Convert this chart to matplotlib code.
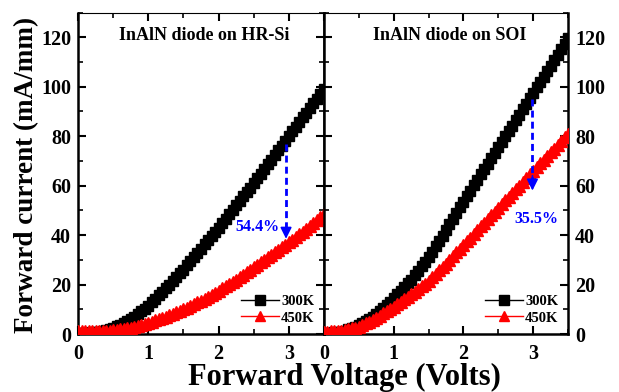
import matplotlib
matplotlib.use("Agg")
import matplotlib.pyplot as plt
from matplotlib.ticker import MultipleLocator

plt.rcParams['font.family'] = ['Liberation Serif', 'DejaVu Serif']
plt.rcParams['font.weight'] = 'bold'

voltage = [0.00, 0.05, 0.10, 0.15, 0.20, 0.25, 0.30, 0.35, 0.40, 0.45,
           0.50, 0.55, 0.60, 0.65, 0.70, 0.75, 0.80, 0.85, 0.90, 0.95,
           1.00, 1.05, 1.10, 1.15, 1.20, 1.25, 1.30, 1.35, 1.40, 1.45,
           1.50, 1.55, 1.60, 1.65, 1.70, 1.75, 1.80, 1.85, 1.90, 1.95,
           2.00, 2.05, 2.10, 2.15, 2.20, 2.25, 2.30, 2.35, 2.40, 2.45,
           2.50, 2.55, 2.60, 2.65, 2.70, 2.75, 2.80, 2.85, 2.90, 2.95,
           3.00, 3.05, 3.10, 3.15, 3.20, 3.25, 3.30, 3.35, 3.40, 3.45,
           3.50]

hrsi_300K = [0.5, 0.5, 0.55, 0.6, 0.7, 0.8, 1.0, 1.3, 1.7, 2.1,
             2.5, 3.1, 3.7, 4.4, 5.2, 6.0, 7.0, 8.0, 9.1, 10.3,
             11.5, 12.8, 14.2, 15.6, 17.0, 18.5, 20.0, 21.5, 23.0, 24.5,
             26.0, 27.7, 29.4, 31.1, 32.8, 34.5, 36.2, 37.9, 39.6, 41.3,
             43.0, 44.8, 46.6, 48.4, 50.2, 52.0, 53.8, 55.6, 57.4, 59.2,
             61.0, 62.9, 64.8, 66.7, 68.6, 70.5, 72.4, 74.3, 76.2, 78.1,
             80.0, 81.9, 83.8, 85.7, 87.6, 89.5, 91.4, 93.3, 95.2, 97.1,
             99.0]

hrsi_450K = [1.2, 1.2, 1.2, 1.2, 1.2, 1.2, 1.25, 1.3, 1.35, 1.4,
             1.5, 1.7, 1.9, 2.1, 2.35, 2.6, 2.95, 3.3, 3.7, 4.1,
             4.5, 5.0, 5.5, 6.0, 6.5, 7.0, 7.6, 8.2, 8.8, 9.4,
             10.0, 10.7, 11.4, 12.1, 12.8, 13.5, 14.3, 15.1, 15.9, 16.7,
             17.5, 18.4, 19.3, 20.2, 21.1, 22.0, 23.0, 24.0, 25.0, 26.0,
             27.0, 28.0, 29.0, 30.0, 31.0, 32.0, 33.0, 34.0, 35.0, 36.0,
             37.0, 38.1, 39.2, 40.3, 41.4, 42.5, 43.7, 44.9, 46.1, 47.3,
             48.5]

soi_300K = [0.5, 0.55, 0.6, 0.7, 0.85, 1.0, 1.4, 1.9, 2.4, 2.9,
            3.5, 4.3, 5.2, 6.1, 7.0, 8.0, 9.2, 10.5, 11.8, 13.1,
            14.5, 16.0, 17.5, 19.0, 20.5, 22.0, 23.8, 25.6, 27.4, 29.2,
            31.0, 33.2, 35.4, 37.6, 39.8, 42.0, 44.3, 46.6, 48.9, 51.2,
            53.5, 55.7, 57.9, 60.1, 62.3, 64.5, 66.7, 68.9, 71.1, 73.3,
            75.5, 77.7, 79.9, 82.1, 84.3, 86.5, 88.7, 90.9, 93.1, 95.3,
            97.5, 99.7, 101.9, 104.1, 106.3, 108.5, 110.7, 112.9, 115.1, 117.3,
            119.5]

soi_450K = [1.0, 1.0, 1.05, 1.1, 1.2, 1.3, 1.6, 1.9, 2.3, 2.6,
            3.0, 3.6, 4.3, 5.0, 5.7, 6.5, 7.4, 8.3, 9.2, 10.1,
            11.0, 12.0, 13.0, 14.0, 15.0, 16.0, 17.1, 18.2, 19.3, 20.4,
            21.5, 22.9, 24.3, 25.7, 27.1, 28.5, 30.0, 31.5, 33.0, 34.5,
            36.0, 37.5, 39.0, 40.5, 42.0, 43.5, 45.0, 46.5, 48.0, 49.5,
            51.0, 52.5, 54.0, 55.5, 57.0, 58.5, 60.0, 61.5, 63.0, 64.5,
            66.0, 67.5, 69.0, 70.5, 72.0, 73.5, 75.0, 76.5, 78.0, 79.5,
            81.0]

panel_titles = ["InAlN diode on HR-Si", "InAlN diode on SOI"]
series_labels = ["300K", "450K"]
drop_labels = ["54.4%", "35.5%"]
xticks = [0, 1, 2, 3]
yticks = [0, 20, 40, 60, 80, 100, 120]

fig = plt.figure(figsize=(6.19, 3.92), dpi=100)
W, H = 619, 392
ax1 = fig.add_axes([78 / W, (H - 334) / H, 246 / W, 321.5 / H])
ax2 = fig.add_axes([324 / W, (H - 334) / H, 244 / W, 321.5 / H])

panels = [
    (ax1, hrsi_300K, hrsi_450K, panel_titles[0], drop_labels[0],
     (2.96, 77, 38.5), (2.56, 43.3)),
    (ax2, soi_300K, soi_450K, panel_titles[1], drop_labels[1],
     (2.99, 95, 58.0), (3.04, 46.3)),
]

for i, (ax, c300, c450, title, drop, arrow, txtpos) in enumerate(panels):
    ax.plot(voltage, c300, color='black', marker='s', markersize=7.5,
            linewidth=1, label=series_labels[0], zorder=3)
    ax.plot(voltage, c450, color='red', marker='^', markersize=8,
            linewidth=1, label=series_labels[1], zorder=4)
    ax.set_xlim(0, 3.5)
    ax.set_ylim(0, 130)
    ax.set_xticks(xticks)
    ax.set_yticks(yticks)
    ax.xaxis.set_minor_locator(MultipleLocator(0.5))
    ax.yaxis.set_minor_locator(MultipleLocator(10))
    ax.tick_params(axis='both', which='major', direction='in', length=6,
                   width=1.5, labelsize=14.5, pad=5)
    ax.tick_params(axis='both', which='minor', direction='in', length=3.5,
                   width=1.2)
    ax.tick_params(axis='x', which='major', pad=7)
    ax.tick_params(axis='x', which='both', top=True, labeltop=False)
    for lab in ax.get_xticklabels() + ax.get_yticklabels():
        lab.set_fontweight('bold')
    for side in ['left', 'right', 'bottom']:
        ax.spines[side].set_linewidth(1.8)
    ax.spines['top'].set_linewidth(0.8)
    if i == 0:
        ax.tick_params(axis='y', which='both', left=True, right=True,
                       labelleft=True, labelright=False)
    else:
        ax.tick_params(axis='y', which='both', left=True, right=True,
                       labelleft=False, labelright=True)
    ax.text(1.8, 120.8, title, ha='center', va='center', fontsize=13,
            fontweight='bold')
    # dashed arrow
    ax_x, y0, y1 = arrow
    ax.plot([ax_x, ax_x], [y0, y1 + 4], color='blue', linestyle=(0, (2.5, 1.5)),
            linewidth=2, zorder=6)
    ax.annotate('', xy=(ax_x, y1), xytext=(ax_x, y1 + 6),
                arrowprops=dict(arrowstyle='-|>', color='blue', lw=1.2,
                                mutation_scale=17, shrinkA=0, shrinkB=0),
                zorder=7)
    ax.text(txtpos[0], txtpos[1], drop, ha='center', va='center',
            fontsize=11.5, fontweight='bold', color='blue', zorder=8)
    leg = ax.legend(loc='lower right', bbox_to_anchor=(1.0, 0.0),
                    frameon=False, fontsize=10.5, handlelength=2.6,
                    handletextpad=0.15, labelspacing=0.2, borderaxespad=0.25)
    for t in leg.get_texts():
        t.set_fontweight('bold')
    for h in leg.legend_handles:
        h.set_markersize(7)

fig.text(27 / W, 1 - 175 / H, "Forward current (mA/mm)", rotation=90,
         ha='center', va='center', fontsize=19.5, fontweight='bold')
fig.text(344 / W, 1 - 377 / H, "Forward Voltage (Volts)", ha='center',
         va='center', fontsize=22, fontweight='bold')

fig.savefig("out.png", dpi=100)
